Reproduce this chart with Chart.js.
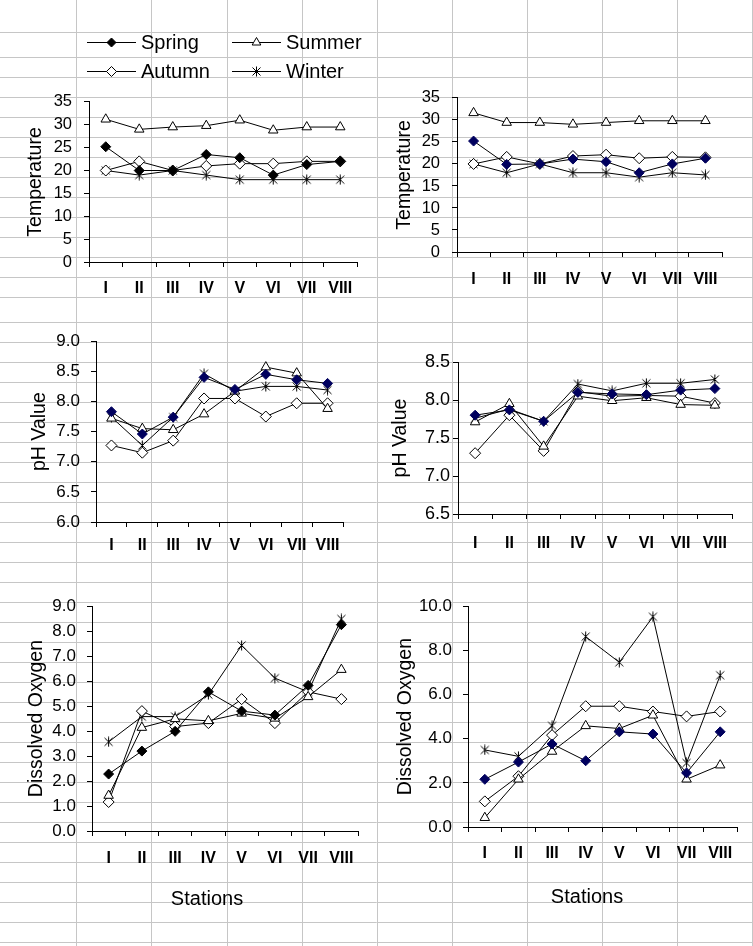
<!DOCTYPE html>
<html lang="en">
<head>
<meta charset="UTF-8">
<title>Seasonal temperature, pH and dissolved oxygen by station</title>
<script src="https://cdn.jsdelivr.net/npm/chart.js"></script>
<style>
  html, body { margin: 0; padding: 0; background: #fff; }
  body { width: 753px; height: 946px; position: relative; overflow: hidden;
         font-family: "Liberation Sans", Arial, sans-serif; color: #000; }
  canvas { position: absolute; }
  .legend-item { position: absolute; height: 20px; display: flex; align-items: center;
                 font-size: 20px; white-space: nowrap; }
  .legend-item canvas { position: static; margin-right: 5px; }
  .stations { position: absolute; font-size: 20px; white-space: nowrap;
              transform: translate(-50%, -50%); }
</style>
</head>
<body>
<canvas id="sheet" width="753" height="946" style="left:0;top:0"></canvas>

<canvas id="tempLeft"  width="372" height="228" style="left:0;top:80px"></canvas>
<canvas id="tempRight" width="376" height="224" style="left:377px;top:76px"></canvas>
<canvas id="phLeft"    width="372" height="240" style="left:0;top:320px"></canvas>
<canvas id="phRight"   width="376" height="220" style="left:377px;top:340px"></canvas>
<canvas id="doLeft"    width="372" height="290" style="left:0;top:585px"></canvas>
<canvas id="doRight"   width="376" height="285" style="left:377px;top:585px"></canvas>

<div id="legend"></div>
<div class="stations" style="left:207px;top:898px">Stations</div>
<div class="stations" style="left:587px;top:896px">Stations</div>

<script>
const stations = ['I', 'II', 'III', 'IV', 'V', 'VI', 'VII', 'VIII'];
const seasons = ['Spring', 'Summer', 'Autumn', 'Winter'];

// Temperature - left panel
const tempLeftSpring = [25.2, 20.0, 20.0, 23.5, 22.8, 19.0, 21.3, 22.0];
const tempLeftSummer = [31.2, 29.0, 29.5, 29.8, 31.0, 28.8, 29.5, 29.5];
const tempLeftAutumn = [20.0, 22.0, 20.0, 21.0, 21.5, 21.5, 22.0, 22.0];
const tempLeftWinter = [20.0, 19.0, 20.0, 19.0, 18.0, 18.0, 18.0, 18.0];

// Temperature - right panel
const tempRightSpring = [25.2, 19.9, 20.0, 21.1, 20.5, 18.0, 20.0, 21.3];
const tempRightSummer = [31.6, 29.4, 29.4, 29.0, 29.4, 29.8, 29.8, 29.8];
const tempRightAutumn = [20.0, 21.6, 20.0, 21.8, 22.1, 21.3, 21.6, 21.5];
const tempRightWinter = [20.0, 18.0, 20.0, 18.0, 18.0, 17.0, 18.0, 17.5];

// pH - left panel
const phLeftSpring = [7.83, 7.46, 7.74, 8.40, 8.20, 8.45, 8.36, 8.30];
const phLeftSummer = [7.72, 7.55, 7.53, 7.79, 8.17, 8.57, 8.47, 7.88];
const phLeftAutumn = [7.27, 7.15, 7.35, 8.05, 8.05, 7.75, 7.97, 7.97];
const phLeftWinter = [7.74, 7.27, 7.74, 8.46, 8.17, 8.25, 8.25, 8.19];

// pH - right panel
const phRightSpring = [7.80, 7.87, 7.72, 8.10, 8.08, 8.07, 8.13, 8.15];
const phRightSummer = [7.71, 7.95, 7.39, 8.05, 7.99, 8.03, 7.94, 7.93];
const phRightAutumn = [7.30, 7.80, 7.33, 8.11, 8.05, 8.06, 8.05, 7.96];
const phRightWinter = [7.76, 7.88, 7.72, 8.21, 8.12, 8.22, 8.22, 8.27];

// Dissolved oxygen - left panel
const doLeftSpring = [2.28, 3.20, 3.99, 5.57, 4.80, 4.64, 5.83, 8.26];
const doLeftSummer = [1.42, 4.14, 4.49, 4.41, 4.71, 4.51, 5.37, 6.46];
const doLeftAutumn = [1.16, 4.80, 4.18, 4.32, 5.28, 4.32, 5.57, 5.28];
const doLeftWinter = [3.57, 4.58, 4.58, 5.46, 7.43, 6.12, 5.57, 8.49];

// Dissolved oxygen - right panel
const doRightSpring = [2.16, 2.94, 3.76, 3.00, 4.31, 4.21, 2.45, 4.31];
const doRightSummer = [0.42, 2.16, 3.42, 4.58, 4.46, 5.06, 2.16, 2.80];
const doRightAutumn = [1.16, 2.30, 4.16, 5.47, 5.47, 5.23, 5.01, 5.23];
const doRightWinter = [3.49, 3.20, 4.58, 8.62, 7.46, 9.52, 2.90, 6.87];

const FONT = '"Liberation Sans", Arial, sans-serif';
const NAVY = '#00005e';

// worksheet gridlines behind the charts
function drawSheet() {
    const g = document.getElementById('sheet').getContext('2d');
    g.strokeStyle = '#c6c6c6';
    g.lineWidth = 1;
    const cols = [76, 151, 227, 302, 377, 452, 527, 602, 677, 752];
    const rows = [32];
    for (let y = 57; y <= 297; y += 20) rows.push(y);
    for (let y = 322; y <= 942; y += 20) rows.push(y);
    g.beginPath();
    cols.forEach(x => { g.moveTo(x + 0.5, 0); g.lineTo(x + 0.5, 946); });
    rows.forEach(y => { g.moveTo(0, y + 0.5); g.lineTo(753, y + 0.5); });
    g.stroke();
}

function makeStar(size) {
    const c = document.createElement('canvas');
    c.width = size; c.height = size;
    const g = c.getContext('2d');
    const m = size / 2, r = size / 2 - 0.5, d = r * 0.8;
    g.strokeStyle = '#000';
    g.lineWidth = 1;
    g.beginPath();
    g.moveTo(m, m - r); g.lineTo(m, m + r);
    g.moveTo(m - d, m - d); g.lineTo(m + d, m + d);
    g.moveTo(m + d, m - d); g.lineTo(m - d, m + d);
    g.stroke();
    return c;
}
const starMarker = makeStar(11);

function seriesStyle(season, springColor) {
    if (season === 'Spring') return { pointStyle: 'rectRot', pointRadius: 5, pointBackgroundColor: springColor, pointBorderColor: springColor };
    if (season === 'Summer') return { pointStyle: 'triangle', pointRadius: 5.5, pointBackgroundColor: '#fff', pointBorderColor: '#000' };
    if (season === 'Autumn') return { pointStyle: 'rectRot', pointRadius: 5.5, pointBackgroundColor: '#fff', pointBorderColor: '#000' };
    return { pointStyle: starMarker, pointRadius: 5, pointBackgroundColor: '#000', pointBorderColor: '#000' };
}

function buildChart(id, series, c) {
    const datasets = seasons.map((s, i) => Object.assign({
        label: s,
        data: series[i],
        borderColor: '#000',
        borderWidth: 1,
        pointBorderWidth: 1,
        tension: 0
    }, seriesStyle(s, c.spring)));

    new Chart(document.getElementById(id), {
        type: 'line',
        data: { labels: stations, datasets },
        options: {
            responsive: false,
            animation: false,
            events: [],
            layout: { padding: { top: c.padTop, right: c.padRight, left: 0, bottom: 0 } },
            plugins: { legend: { display: false }, tooltip: { enabled: false } },
            scales: {
                x: {
                    offset: true,
                    grid: { offset: true, drawOnChartArea: false, tickLength: 5, color: '#000' },
                    border: { color: '#000', width: 1 },
                    ticks: { color: '#000', padding: c.xPad, maxRotation: 0, autoSkip: false,
                             font: { family: FONT, size: 16, weight: 'bold' } },
                    afterFit: s => { s.height = c.xHeight; }
                },
                y: {
                    min: c.min, max: c.max,
                    grid: { drawOnChartArea: false, tickLength: 5, color: '#000' },
                    border: { color: '#000', width: 1 },
                    ticks: { stepSize: c.step, autoSkip: false, color: '#000', padding: c.yPad,
                             font: { family: FONT, size: c.tickSize },
                             callback: v => v.toFixed(c.dec) },
                    title: { display: true, text: c.title, color: '#000',
                             font: { family: FONT, size: 19.5 },
                             padding: { top: c.titlePad, bottom: 0 } },
                    afterFit: s => { s.width = c.yWidth; }
                }
            }
        }
    });
}

function buildLegend() {
    const host = document.getElementById('legend');
    const spots = [[87, 32], [232, 32], [87, 61], [232, 61]];
    seasons.forEach((s, i) => {
        const item = document.createElement('div');
        item.className = 'legend-item';
        item.style.left = spots[i][0] + 'px';
        item.style.top = spots[i][1] + 'px';
        const c = document.createElement('canvas');
        c.width = 49; c.height = 14;
        const g = c.getContext('2d');
        g.strokeStyle = '#000'; g.lineWidth = 1;
        g.beginPath(); g.moveTo(0, 7.5); g.lineTo(49, 7.5); g.stroke();
        const x = 24.5, y = 7.5;
        g.beginPath();
        if (s === 'Spring' || s === 'Autumn') {
            const r = s === 'Spring' ? 4.5 : 5;
            g.moveTo(x - r, y); g.lineTo(x, y - r); g.lineTo(x + r, y); g.lineTo(x, y + r); g.closePath();
            g.fillStyle = s === 'Spring' ? '#000' : '#fff';
            g.fill(); g.stroke();
        } else if (s === 'Summer') {
            g.moveTo(x, y - 5); g.lineTo(x + 4.33, y + 2.5); g.lineTo(x - 4.33, y + 2.5); g.closePath();
            g.fillStyle = '#fff'; g.fill(); g.stroke();
        } else {
            g.drawImage(starMarker, x - 5.5, y - 5.5);
        }
        item.appendChild(c);
        item.appendChild(document.createTextNode(s));
        host.appendChild(item);
    });
}

drawSheet();
buildLegend();

buildChart('tempLeft', [tempLeftSpring, tempLeftSummer, tempLeftAutumn, tempLeftWinter],
    { spring: '#000', min: 0, max: 35, step: 5, dec: 0, title: 'Temperature', tickSize: 16.5,
      yWidth: 89, xHeight: 46, padTop: 14, padRight: 15, yPad: 12, xPad: 12, titlePad: 23.5 });
buildChart('tempRight', [tempRightSpring, tempRightSummer, tempRightAutumn, tempRightWinter],
    { spring: NAVY, min: 0, max: 35, step: 5, dec: 0, title: 'Temperature', tickSize: 16.5,
      yWidth: 80, xHeight: 48, padTop: 14, padRight: 31, yPad: 12, xPad: 13, titlePad: 15.5 });
buildChart('phLeft', [phLeftSpring, phLeftSummer, phLeftAutumn, phLeftWinter],
    { spring: NAVY, min: 6, max: 9, step: 0.5, dec: 1, title: 'pH Value', tickSize: 17,
      yWidth: 96, xHeight: 38, padTop: 20, padRight: 29, yPad: 11, xPad: 9, titlePad: 27.5 });
buildChart('phRight', [phRightSpring, phRightSummer, phRightAutumn, phRightWinter],
    { spring: NAVY, min: 6.5, max: 8.5, step: 0.5, dec: 1, title: 'pH Value', tickSize: 18,
      yWidth: 81, xHeight: 46, padTop: 22, padRight: 21, yPad: 3, xPad: 15, titlePad: 11.5 });
buildChart('doLeft', [doLeftSpring, doLeftSummer, doLeftAutumn, doLeftWinter],
    { spring: '#000', min: 0, max: 9, step: 1, dec: 1, title: 'Dissolved Oxygen', tickSize: 17,
      yWidth: 92, xHeight: 44, padTop: 18, padRight: 14, yPad: 11, xPad: 13, titlePad: 24.5 });
buildChart('doRight', [doRightSpring, doRightSummer, doRightAutumn, doRightWinter],
    { spring: NAVY, min: 0, max: 10, step: 2, dec: 1, title: 'Dissolved Oxygen', tickSize: 17,
      yWidth: 91, xHeight: 43, padTop: 18, padRight: 16, yPad: 11, xPad: 12, titlePad: 16.5 });
</script>
</body>
</html>
